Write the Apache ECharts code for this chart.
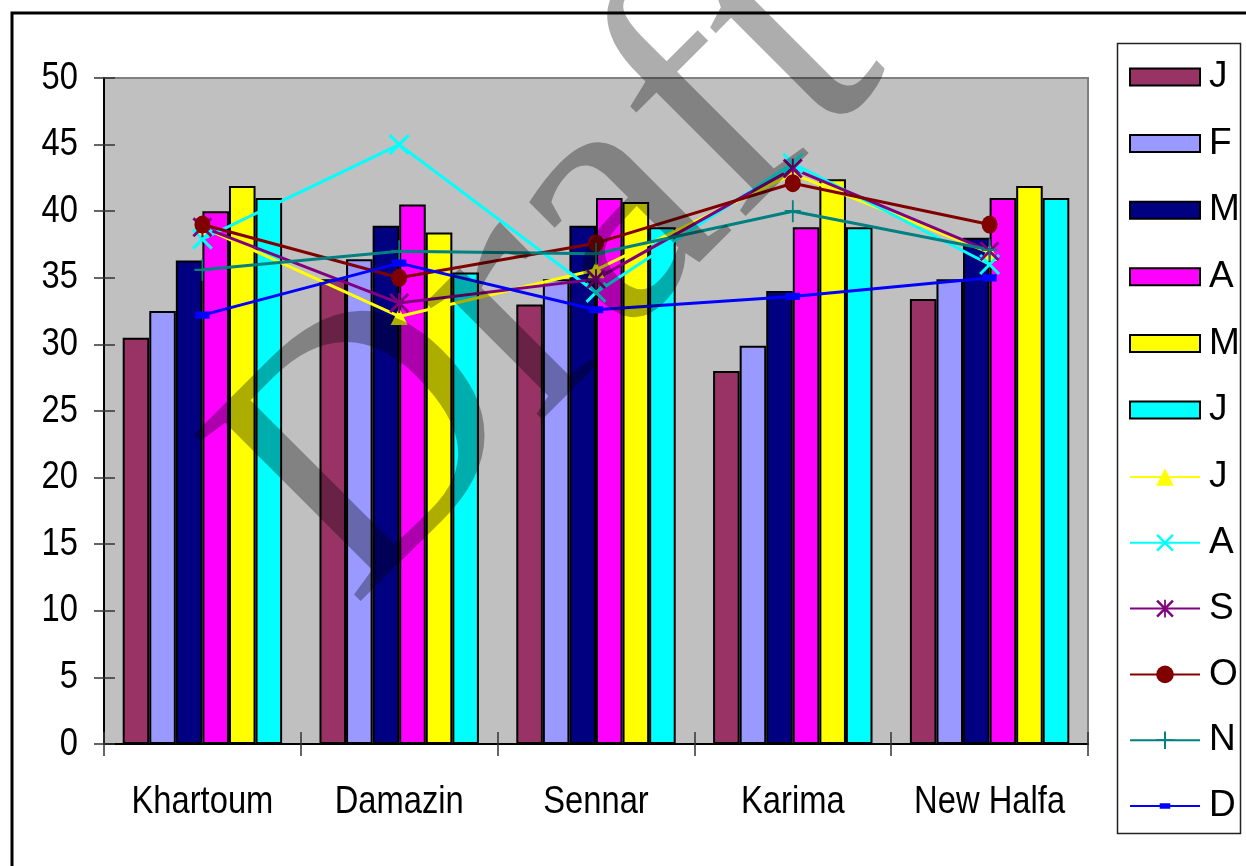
<!DOCTYPE html>
<html>
<head>
<meta charset="utf-8">
<script src="https://cdn.jsdelivr.net/npm/echarts@6/dist/echarts.min.js"></script>
<style>
  html, body { margin: 0; padding: 0; background: #ffffff; }
  #chart { width: 1246px; height: 866px; }
</style>
</head>
<body>
<div id="chart"></div>
<script>
// Stations along the x axis
const stations = ['Khartoum', 'Damazin', 'Sennar', 'Karima', 'New Halfa'];
const yTicks = [0, 5, 10, 15, 20, 25, 30, 35, 40, 45, 50];

// Monthly values drawn as bars (January - June)
const jan = [30.5, 34.9, 33.0, 28.0, 33.4];
const feb = [32.5, 36.4, 34.9, 29.9, 34.9];
const mar = [36.3, 38.9, 38.9, 34.0, 38.0];
const apr = [40.0, 40.5, 41.0, 38.8, 41.0];
const may = [41.9, 38.4, 40.7, 42.4, 41.9];
const jun = [41.0, 35.4, 38.8, 38.8, 41.0];

// Monthly values drawn as lines (July - December)
const jul = [38.8, 32.1, 35.6, 42.8, 36.9];
const aug = [37.9, 45.0, 33.9, 43.6, 36.0];
const sep = [38.8, 33.1, 34.9, 43.2, 37.0];
const oct = [39.0, 35.0, 37.6, 42.1, 39.0];
const nov = [35.6, 37.0, 36.8, 40.0, 37.1];
const dec = [32.2, 36.1, 32.6, 33.6, 35.0];

const FONT = "'Liberation Sans', Arial, sans-serif";
const LABEL_FONT = '38.5px "Liberation Sans", Arial, sans-serif';
const NARROW = 0.85;   // horizontal squeeze for a narrow-looking face

// Marker shapes for the line series
const xMark = 'path://M0,2L2,0L20,18L18,20Z M18,0L20,2L2,20L0,18Z';
const starMark = 'path://M0,2L2,0L20,18L18,20Z M18,0L20,2L2,20L0,18Z M9,0L11,0L11,20L9,20Z';
const plusMark = 'path://M9,0L11,0L11,20L9,20Z M1,9L19,9L19,11L1,11Z';
const dashMark = 'path://M0,0L0,0Z M20,20L20,20Z M4,7L16,7L16,13L4,13Z';

function barSeries(name, data, color) {
  return {
    name: name, type: 'bar', data: data,
    barGap: '0%', barCategoryGap: '19%',
    itemStyle: { color: color, borderColor: '#000000', borderWidth: 2 },
    emphasis: { disabled: true }
  };
}
function lineSeries(name, data, color, symbol, size) {
  return {
    name: name, type: 'line', data: data,
    symbol: symbol, symbolSize: size, showAllSymbol: true,
    lineStyle: { color: color, width: 3 },
    itemStyle: { color: color, borderWidth: 0 },
    emphasis: { disabled: true },
    z: 5
  };
}

const legendCommon = {
  orient: 'vertical', left: 1129, padding: 0,
  itemWidth: 70, selectedMode: false,
  formatter: function (name) { return name.charAt(0); },
  textStyle: { color: '#000000', fontFamily: FONT, fontSize: 37, lineHeight: 40, padding: [0, 0, 0, 4] }
};

const chart = echarts.init(document.getElementById('chart'), null, { renderer: 'canvas' });

const option = {
  animation: false,
  backgroundColor: '#ffffff',
  grid: {
    left: 104, right: 158, top: 78, bottom: 122,
    show: true, backgroundColor: '#c0c0c0', borderColor: '#808080', borderWidth: 2
  },
  xAxis: [{
    type: 'category', data: stations,
    axisLine: { lineStyle: { color: '#000000', width: 2 } },
    axisTick: { show: true, inside: false, length: 12, lineStyle: { color: '#333333', width: 1.5 } },
    axisLabel: { show: false },
    splitLine: { show: false }
  }, {
    type: 'category', data: stations, position: 'bottom',
    axisLine: { show: false },
    axisTick: { show: true, inside: true, length: 12, lineStyle: { color: '#333333', width: 1.5 } },
    axisLabel: { show: false }, splitLine: { show: false }
  }],
  yAxis: [{
    type: 'value', min: yTicks[0], max: yTicks[yTicks.length - 1], interval: 5,
    axisLine: { show: true, lineStyle: { color: '#000000', width: 2 } },
    axisTick: { show: true, inside: false, length: 10, lineStyle: { color: '#333333', width: 1.5 } },
    axisLabel: { show: false },
    splitLine: { show: false }
  }, {
    type: 'value', min: yTicks[0], max: yTicks[yTicks.length - 1], interval: 5, position: 'left',
    axisLine: { show: false },
    axisTick: { show: true, inside: true, length: 11, lineStyle: { color: '#333333', width: 1.5 } },
    axisLabel: { show: false }, splitLine: { show: false }
  }],
  legend: [
    Object.assign({}, legendCommon, {
      top: 57, itemHeight: 17, itemGap: 26.6,
      data: ['January', 'February', 'March', 'April', 'May', 'June'].map(function (n) {
        return { name: n, icon: 'rect' };
      })
    }),
    Object.assign({}, legendCommon, {
      top: 457, itemHeight: 22, itemGap: 25.8,
      data: ['July', 'August', 'September', 'October', 'November', 'December']
    })
  ],
  series: [
    barSeries('January', jan, '#993366'),
    barSeries('February', feb, '#9999ff'),
    barSeries('March', mar, '#000080'),
    barSeries('April', apr, '#ff00ff'),
    barSeries('May', may, '#ffff00'),
    barSeries('June', jun, '#00ffff'),
    lineSeries('July', jul, '#ffff00', 'triangle', 17),
    lineSeries('August', aug, '#00ffff', xMark, 21),
    lineSeries('September', sep, '#800080', starMark, 20),
    lineSeries('October', oct, '#800000', 'circle', [16, 18]),
    lineSeries('November', nov, '#008080', plusMark, [16, 22]),
    lineSeries('December', dec, '#0000ff', dashMark, 24)
  ]
};

chart.setOption(option);

// Axis labels, legend frame, page frame and watermark
const graphics = [];
yTicks.forEach(function (v) {
  graphics.push({
    type: 'text', silent: true, z: 20,
    x: 78, y: chart.convertToPixel({ yAxisIndex: 0 }, v), scaleX: NARROW,
    style: { text: String(v), font: LABEL_FONT, fill: '#000000', align: 'right', verticalAlign: 'middle' }
  });
});
stations.forEach(function (s) {
  graphics.push({
    type: 'text', silent: true, z: 20,
    x: chart.convertToPixel({ xAxisIndex: 0 }, s), y: 802, scaleX: NARROW,
    style: { text: s, font: LABEL_FONT, fill: '#000000', align: 'center', verticalAlign: 'middle' }
  });
});
graphics.push({
  type: 'rect', silent: true, z: -1,
  shape: { x: 1117.5, y: 43.5, width: 123, height: 790 },
  style: { fill: 'none', stroke: '#222222', lineWidth: 1.5 }
});
graphics.push({
  type: 'rect', z: 100, silent: true,
  shape: { x: 12, y: 13, width: 1250, height: 870 },
  style: { fill: 'none', stroke: '#000000', lineWidth: 3 }
});
graphics.push({
  type: 'text', z: 90, silent: true,
  x: 555, y: 273, rotation: Math.PI / 4,
  style: {
    text: 'Draft', fill: 'rgba(0,0,0,0.32)',
    font: '360px "Liberation Serif", "Times New Roman", serif',
    align: 'center', verticalAlign: 'middle'
  }
});
chart.setOption({ graphic: graphics });
</script>
</body>
</html>
